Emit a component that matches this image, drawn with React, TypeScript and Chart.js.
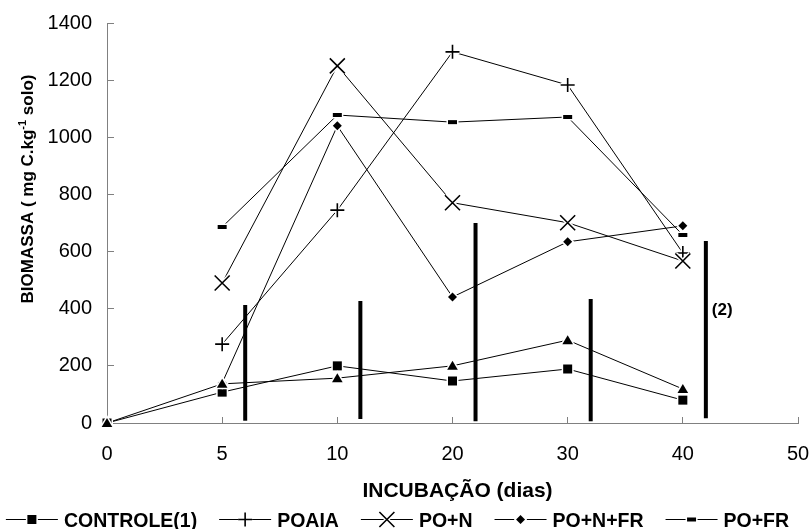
import React, { useEffect, useRef } from 'react';
import { Chart, registerables } from 'chart.js';

Chart.register(...registerables);

// ---- data ----
const categories = ['0', '5', '10', '20', '30', '40', '50'];
const seriesNames = ['CONTROLE(1)', 'POAIA', 'PO+N', 'PO+N+FR', 'PO+FR'];
const controle = [0, 108, 200, 147, 189, 80];
const poaia = [null, 276, 745, 1299, 1183, 595];
const poN = [null, 490, 1250, 771, 701, 567];
const poNFR = [null, 140, 1040, 441, 634, 690];
const poFR = [null, 686, 1078, 1053, 1071, 658];
const unlabeledTriangle = [0, 137, 157, 200, 290, 119];
const lsdCategories = ['5', '10', '20', '30', '40'];
const lsdLow = [8, 14, 6, 6, 17];
const lsdHigh = [413, 427, 700, 434, 637];
const yMin = 0;
const yMax = 1400;
const yStep = 200;
const noteText = '(2)';
const noteValue = 395;
const xTitle = 'INCUBAÇÃO (dias)';
const yTitleMain = 'BIOMASSA ( mg C.kg';
const yTitleSup = '-1';
const yTitleEnd = ' solo)';

const FONT = "'Liberation Sans', Arial, sans-serif";
const markers = ['square', 'plus', 'x', 'diamond', 'dash'];

function drawMarker(ctx: CanvasRenderingContext2D, kind: string, x: number, y: number, halo: boolean) {
  ctx.save();
  const fillShape = (path: () => void) => {
    if (halo) {
      ctx.beginPath(); path();
      ctx.strokeStyle = '#fff'; ctx.lineWidth = 3; ctx.lineJoin = 'miter';
      ctx.stroke(); ctx.fillStyle = '#fff'; ctx.fill();
    }
    ctx.beginPath(); path();
    ctx.fillStyle = '#000'; ctx.fill();
  };
  const strokeShape = (path: () => void) => {
    if (halo) {
      ctx.beginPath(); path();
      ctx.strokeStyle = '#fff'; ctx.lineWidth = 4.5; ctx.stroke();
    }
    ctx.beginPath(); path();
    ctx.strokeStyle = '#000'; ctx.lineWidth = 1.6; ctx.stroke();
  };
  switch (kind) {
    case 'square': {
      const s = 4.5;
      fillShape(() => ctx.rect(x - s, y - s, 2 * s, 2 * s));
      break;
    }
    case 'triangle':
      fillShape(() => { ctx.moveTo(x, y - 5); ctx.lineTo(x + 5.3, y + 4); ctx.lineTo(x - 5.3, y + 4); ctx.closePath(); });
      break;
    case 'diamond': {
      const r = 4.5;
      fillShape(() => { ctx.moveTo(x - r, y); ctx.lineTo(x, y - r); ctx.lineTo(x + r, y); ctx.lineTo(x, y + r); ctx.closePath(); });
      break;
    }
    case 'dash':
      fillShape(() => ctx.rect(x - 4.5, y - 2, 9, 4));
      break;
    case 'plus': {
      const r = 7;
      strokeShape(() => { ctx.moveTo(x - r, y); ctx.lineTo(x + r, y); ctx.moveTo(x, y - r); ctx.lineTo(x, y + r); });
      break;
    }
    case 'x': {
      const r = 7.5;
      strokeShape(() => { ctx.moveTo(x - r, y - r); ctx.lineTo(x + r, y + r); ctx.moveTo(x + r, y - r); ctx.lineTo(x - r, y + r); });
      break;
    }
  }
  ctx.restore();
}

const toPoints = (vals: (number | null)[]) =>
  vals.map((v, i) => (v == null ? null : { x: i, y: v })).filter((p) => p !== null) as { x: number; y: number }[];

const markerPlugin = {
  id: 'markerPlugin',
  afterDatasetsDraw(chart: any) {
    const ctx = chart.ctx as CanvasRenderingContext2D;
    chart.data.datasets.forEach((ds: any, i: number) => {
      if (!ds.marker) return;
      const meta = chart.getDatasetMeta(i);
      meta.data.forEach((el: any) => {
        if (el.skip) return;
        drawMarker(ctx, ds.marker, el.x, el.y, true);
      });
    });
  },
};

const decorPlugin = {
  id: 'decorPlugin',
  afterDraw(chart: any) {
    const ctx = chart.ctx as CanvasRenderingContext2D;
    const { chartArea } = chart;
    const xs = chart.scales.x;
    const ys = chart.scales.y;
    ctx.save();
    ctx.fillStyle = '#000';

    // note "(2)"
    ctx.font = `bold 17px ${FONT}`;
    ctx.textAlign = 'left';
    ctx.textBaseline = 'middle';
    const lastIdx = categories.indexOf(lsdCategories[lsdCategories.length - 1]);
    ctx.fillText(noteText, xs.getPixelForValue(lastIdx + 0.2) + 6, ys.getPixelForValue(noteValue));

    // x title
    ctx.font = `bold 21px ${FONT}`;
    ctx.textAlign = 'center';
    ctx.textBaseline = 'alphabetic';
    ctx.fillText(xTitle, (chartArea.left + chartArea.right) / 2 + 5, 497);

    // y title (rotated) with superscript
    const mainFont = `bold 17px ${FONT}`;
    const supFont = `bold 11px ${FONT}`;
    ctx.font = mainFont;
    const w1 = ctx.measureText(yTitleMain).width;
    const w3 = ctx.measureText(yTitleEnd).width;
    ctx.font = supFont;
    const w2 = ctx.measureText(yTitleSup).width;
    const total = w1 + w2 + w3;
    ctx.translate(33, 189);
    ctx.rotate(-Math.PI / 2);
    ctx.textAlign = 'left';
    let u = -total / 2;
    ctx.font = mainFont;
    ctx.fillText(yTitleMain, u, 0);
    u += w1;
    ctx.font = supFont;
    ctx.fillText(yTitleSup, u, -7);
    u += w2;
    ctx.font = mainFont;
    ctx.fillText(yTitleEnd, u, 0);
    ctx.restore();

    // legend
    ctx.save();
    const legendFont = `bold 19.5px ${FONT}`;
    ctx.font = legendFont;
    const segW = 52;
    const gapST = 6;
    const gapItems = 22;
    const widths = seriesNames.map((n) => ctx.measureText(n).width);
    const totalW = widths.reduce((a, b) => a + b + segW + gapST, 0) + gapItems * (seriesNames.length - 1);
    let lx = chart.width / 2 - 7 - totalW / 2;
    const ly = 519.5;
    seriesNames.forEach((name, i) => {
      ctx.beginPath();
      ctx.strokeStyle = '#000';
      ctx.lineWidth = 1;
      ctx.moveTo(lx, ly);
      ctx.lineTo(lx + segW, ly);
      ctx.stroke();
      drawMarker(ctx, markers[i], lx + segW / 2, ly, true);
      ctx.fillStyle = '#000';
      ctx.font = legendFont;
      ctx.textAlign = 'left';
      ctx.textBaseline = 'alphabetic';
      ctx.fillText(name, lx + segW + gapST, 527);
      lx += segW + gapST + widths[i] + gapItems;
    });
    ctx.restore();
  },
};

export default function App() {
  const ref = useRef<HTMLCanvasElement | null>(null);
  useEffect(() => {
    if (!ref.current) return;
    Chart.defaults.font.family = FONT;
    Chart.defaults.color = '#000';
    const seriesValues = [controle, poaia, poN, poNFR, poFR];
    const datasets: any[] = [];
    // LSD bars
    lsdCategories.forEach((c, i) => {
      const xi = categories.indexOf(c) + 0.2;
      datasets.push({
        type: 'line',
        label: '_lsd' + i,
        data: [{ x: xi, y: lsdLow[i] }, { x: xi, y: lsdHigh[i] }],
        borderColor: '#000',
        borderWidth: 4,
        borderCapStyle: 'butt',
        pointRadius: 0,
        pointHoverRadius: 0,
        fill: false,
      });
    });
    seriesValues.forEach((vals, i) => {
      datasets.push({
        type: 'line',
        label: seriesNames[i],
        data: toPoints(vals),
        borderColor: '#000',
        borderWidth: 1,
        pointRadius: 0,
        pointHoverRadius: 0,
        tension: 0,
        fill: false,
        marker: markers[i],
      });
    });
    datasets.push({
      type: 'line',
      label: '_triangle',
      data: toPoints(unlabeledTriangle),
      borderColor: '#000',
      borderWidth: 1,
      pointRadius: 0,
      pointHoverRadius: 0,
      tension: 0,
      fill: false,
      marker: 'triangle',
    });

    const chart = new Chart(ref.current, {
      type: 'line',
      data: { datasets },
      options: {
        animation: false,
        responsive: false,
        events: [],
        layout: { padding: { left: 0, top: 23, right: 11, bottom: 0 } },
        plugins: { legend: { display: false }, tooltip: { enabled: false } },
        scales: {
          x: {
            type: 'linear',
            position: 'bottom',
            min: 0,
            max: categories.length - 1,
            ticks: {
              stepSize: 1,
              autoSkip: false,
              maxRotation: 0,
              padding: 25,
              color: '#000',
              font: { size: 20 },
              callback: (v: any) => categories[v] ?? '',
            },
            grid: { drawOnChartArea: false, drawTicks: true, tickLength: -6, color: '#808080', lineWidth: 1 },
            border: { color: '#808080', width: 1 },
            afterFit: (s: any) => {
              s.height = 106;
              s.paddingLeft = 0;
              s.paddingRight = 0;
            },
          },
          y: {
            type: 'linear',
            min: yMin,
            max: yMax,
            ticks: {
              stepSize: yStep,
              padding: 22,
              color: '#000',
              font: { size: 20 },
              callback: (v: any) => String(v),
            },
            grid: { drawOnChartArea: false, drawTicks: true, tickLength: -7, color: '#808080', lineWidth: 1 },
            border: { color: '#808080', width: 1 },
            afterFit: (s: any) => {
              s.width = 107;
              s.paddingTop = 0;
              s.paddingBottom = 0;
            },
          },
        },
      } as any,
      plugins: [markerPlugin, decorPlugin],
    });
    return () => chart.destroy();
  }, []);
  return (
    <canvas
      ref={ref}
      width={809}
      height={529}
      style={{ position: 'absolute', left: 0, top: 0, width: 809, height: 529, display: 'block', background: '#fff' }}
    />
  );
}
